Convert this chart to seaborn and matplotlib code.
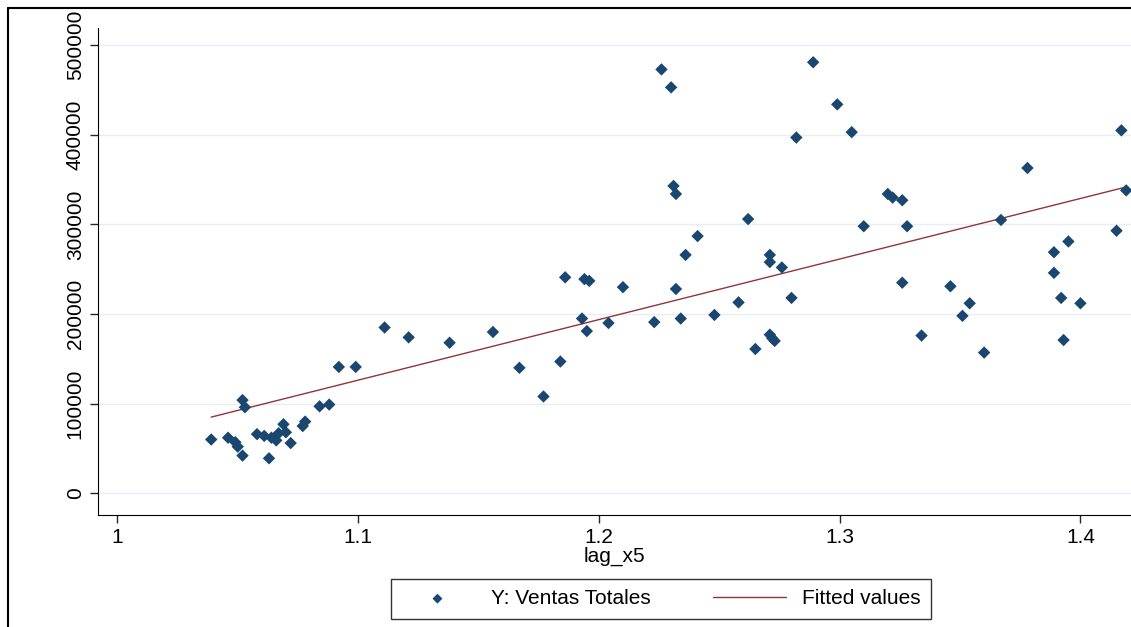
import matplotlib
matplotlib.use("Agg")
import matplotlib.pyplot as plt
import numpy as np
import pandas as pd
import seaborn as sns

lag_x5 = [1.039, 1.046, 1.049, 1.050, 1.052, 1.053, 1.052, 1.058, 1.061, 1.063,
          1.064, 1.066, 1.067, 1.069, 1.070, 1.072, 1.077, 1.078, 1.084, 1.088,
          1.092, 1.099, 1.111, 1.121, 1.138, 1.156, 1.167, 1.177, 1.184, 1.186,
          1.193, 1.194, 1.196, 1.195, 1.204, 1.210, 1.223, 1.226, 1.230, 1.231,
          1.232, 1.232, 1.234, 1.236, 1.241, 1.248, 1.258, 1.262, 1.265, 1.271,
          1.271, 1.271, 1.272, 1.273, 1.276, 1.280, 1.282, 1.289, 1.299, 1.305,
          1.310, 1.320, 1.322, 1.326, 1.326, 1.328, 1.334, 1.346, 1.351, 1.354,
          1.360, 1.367, 1.378, 1.389, 1.389, 1.392, 1.393, 1.395, 1.400, 1.415,
          1.417, 1.419]
ventas = [60, 62, 57, 52, 104, 96, 42, 66, 64, 39,
          62, 59, 67, 77, 68, 56, 75, 80, 97, 99,
          141, 141, 185, 174, 168, 180, 140, 108, 147, 241,
          195, 239, 237, 181, 190, 230, 191, 473, 453, 343,
          334, 228, 195, 266, 287, 199, 213, 306, 161, 266,
          258, 177, 173, 170, 252, 218, 397, 481, 434, 403,
          298, 334, 330, 327, 235, 298, 176, 231, 198, 212,
          157, 305, 363, 269, 246, 218, 171, 281, 212, 293,
          405, 338]
ventas = [v * 1000 for v in ventas]

df = pd.DataFrame({"lag_x5": lag_x5, "ventas": ventas})
slope, intercept = np.polyfit(df["lag_x5"], df["ventas"], 1)
df["fitted"] = intercept + slope * df["lag_x5"]
df = df.sort_values("lag_x5")

sns.set_style("white")
plt.rcParams["font.family"] = ["Liberation Sans", "DejaVu Sans"]
plt.rcParams["text.color"] = "black"
fig = plt.figure(figsize=(11.31, 6.27), dpi=100)
ax = fig.add_axes([0.0867, 0.179, 0.9133, 0.776])

# outer frame at top and left like the original
fig.add_artist(plt.Line2D([0.007, 1], [0.987, 0.987], color="black", lw=1.5))
fig.add_artist(plt.Line2D([0.007, 0.007], [0, 0.987], color="black", lw=1.5))

for y in [0, 100000, 200000, 300000, 400000, 500000]:
    ax.axhline(y, color="#e8eef2", lw=1, zorder=0)

sns.scatterplot(data=df, x="lag_x5", y="ventas", marker="D", s=40,
                color="#1a476f", edgecolor="none", ax=ax, label="Y: Ventas Totales", zorder=3)
sns.lineplot(data=df, x="lag_x5", y="fitted", color="#90353b", lw=1,
             ax=ax, label="Fitted values", zorder=2)

ax.set_xlim(0.992, 1.421)
ax.set_ylim(-24000, 519000)
ax.set_xticks([1, 1.1, 1.2, 1.3, 1.4])
ax.set_xticklabels(["1", "1.1", "1.2", "1.3", "1.4"])
ax.set_yticks([0, 100000, 200000, 300000, 400000, 500000])
ax.set_yticklabels(["0", "100000", "200000", "300000", "400000", "500000"],
                   rotation=90, va="center")
ax.tick_params(axis="both", length=6, width=1, direction="out", labelsize=15,
               left=True, bottom=True, labelcolor="black")
for s in ["top", "right"]:
    ax.spines[s].set_visible(False)
for s in ["left", "bottom"]:
    ax.spines[s].set_color("black")
ax.set_xlabel("lag_x5", fontsize=15, labelpad=0, color="black")
ax.set_ylabel("")

ax.legend(loc="upper center", bbox_to_anchor=(0.545, -0.11), ncol=2, frameon=True,
          fancybox=False, edgecolor="black", fontsize=15, columnspacing=3,
          handlelength=3.5, markerscale=0.8, borderpad=0.5)

fig.savefig("out.png", dpi=100)
